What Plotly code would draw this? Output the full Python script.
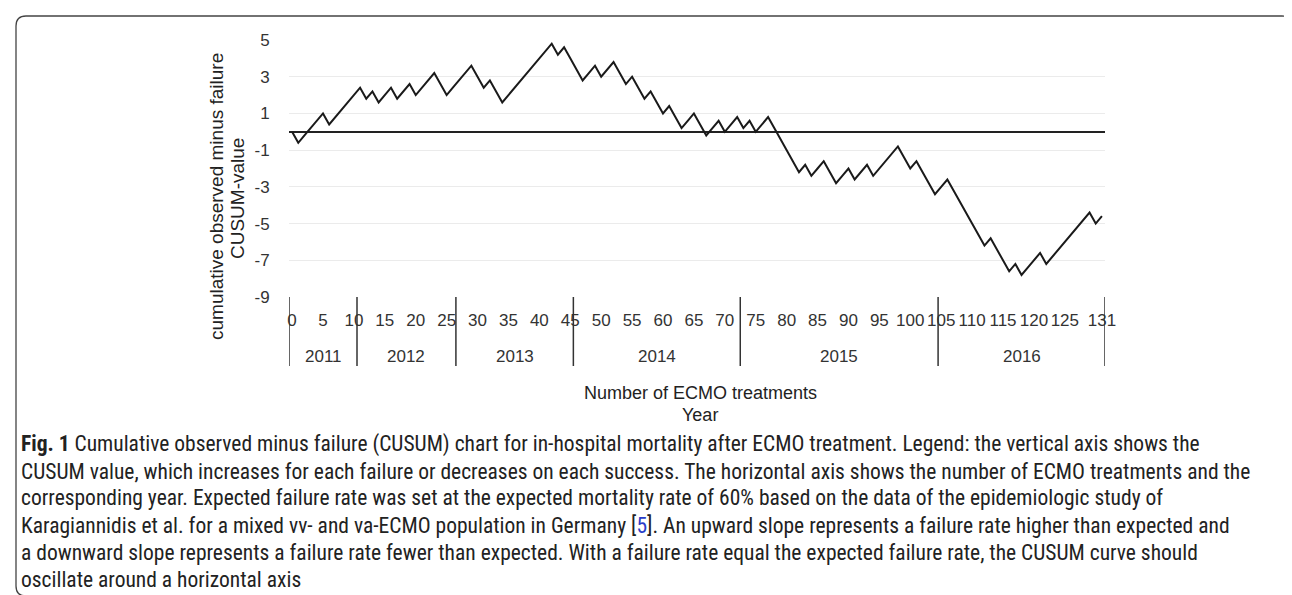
import plotly.graph_objects as go

# ---- data ----
treatments = list(range(0, 132))
cusum = [0.0, -0.6, -0.2, 0.2, 0.6, 1.0, 0.4, 0.8, 1.2, 1.6, 2.0, 2.4, 1.8, 2.2, 1.6, 2.0, 2.4, 1.8, 2.2, 2.6,
         2.0, 2.4, 2.8, 3.2, 2.6, 2.0, 2.4, 2.8, 3.2, 3.6, 3.0, 2.4, 2.8, 2.2, 1.6, 2.0, 2.4, 2.8, 3.2, 3.6,
         4.0, 4.4, 4.8, 4.2, 4.6, 4.0, 3.4, 2.8, 3.2, 3.6, 3.0, 3.4, 3.8, 3.2, 2.6, 3.0, 2.4, 1.8, 2.2, 1.6,
         1.0, 1.4, 0.8, 0.2, 0.6, 1.0, 0.4, -0.2, 0.2, 0.6, 0.0, 0.4, 0.8, 0.2, 0.6, 0.0, 0.4, 0.8, 0.2, -0.4,
         -1.0, -1.6, -2.2, -1.8, -2.4, -2.0, -1.6, -2.2, -2.8, -2.4, -2.0, -2.6, -2.2, -1.8, -2.4, -2.0, -1.6, -1.2, -0.8, -1.4,
         -2.0, -1.6, -2.2, -2.8, -3.4, -3.0, -2.6, -3.2, -3.8, -4.4, -5.0, -5.6, -6.2, -5.8, -6.4, -7.0, -7.6, -7.2, -7.8, -7.4,
         -7.0, -6.6, -7.2, -6.8, -6.4, -6.0, -5.6, -5.2, -4.8, -4.4, -5.0, -4.6]
x_tick_vals = [0, 5, 10, 15, 20, 25, 30, 35, 40, 45, 50, 55, 60, 65, 70, 75, 80, 85, 90, 95, 100, 105, 110, 115, 120, 125, 131]
x_tick_text = [str(v) for v in x_tick_vals]
y_tick_vals = [5, 3, 1, -1, -3, -5, -7, -9]
y_tick_text = ["5", "3", "1", "-1", "-3", "-5", "-7", "-9"]
years = ["2011", "2012", "2013", "2014", "2015", "2016"]
year_first = [0, 11, 27, 46, 73, 105]
year_last = [10, 26, 45, 72, 104, 131]

caption_lines = [
    "<b>Fig. 1</b> Cumulative observed minus failure (CUSUM) chart for in-hospital mortality after ECMO treatment. Legend: the vertical axis shows the",
    "CUSUM value, which increases for each failure or decreases on each success. The horizontal axis shows the number of ECMO treatments and the",
    "corresponding year. Expected failure rate was set at the expected mortality rate of 60% based on the data of the epidemiologic study of",
    "Karagiannidis et al. for a mixed vv- and va-ECMO population in Germany [<span style='color:#2a3cc8'>5</span>]. An upward slope represents a failure rate higher than expected and",
    "a downward slope represents a failure rate fewer than expected. With a failure rate equal the expected failure rate, the CUSUM curve should",
    "oscillate around a horizontal axis",
]

# ---- layout geometry ----
W, H = 1292, 595
L, R, T, B = 281, 195, 32, 306
PW, PH = W - L - R, H - T - B


def px2paper_x(px):
    return (px - L) / PW


def px2paper_y(py):
    return (H - B - py) / PH


AX_FONT = "Liberation Sans, Arial, sans-serif"
TXT = "#333333"

fig = go.Figure()
fig.add_trace(go.Scatter(x=treatments, y=cusum, mode="lines",
                         line=dict(color="#1a1a1a", width=2), showlegend=False, hoverinfo="skip"))

fig.update_layout(
    width=W, height=H,
    margin=dict(l=L, r=R, t=T, b=B, pad=0),
    paper_bgcolor="white", plot_bgcolor="white",
    font=dict(family=AX_FONT, size=17, color=TXT),
    xaxis=dict(range=[-0.5, 131.5], tickmode="array", tickvals=x_tick_vals, ticktext=x_tick_text,
               showgrid=False, zeroline=False, showline=False,
               ticks="outside", ticklen=8, tickcolor="rgba(0,0,0,0)",
               tickfont=dict(family=AX_FONT, size=17, color=TXT)),
    yaxis=dict(range=[-9, 5], tickmode="array", tickvals=y_tick_vals, ticktext=y_tick_text,
               showgrid=True, gridcolor="#ebebeb", gridwidth=1,
               zeroline=True, zerolinecolor="#222222", zerolinewidth=1.5,
               showline=False, ticks="outside", ticklen=15, tickcolor="rgba(0,0,0,0)",
               tickfont=dict(family=AX_FONT, size=17, color=TXT)),
)

shapes = []
# year group separators
bounds = [year_first[0] - 0.5] + [v + 0.5 for v in year_last]
for b in bounds:
    shapes.append(dict(type="line", xref="x", yref="paper", x0=b, x1=b,
                       y0=px2paper_y(289), y1=px2paper_y(358), line=dict(color="#333333", width=1.5)))

# figure frame with rounded corners
x0p, x1p = px2paper_x(8), px2paper_x(1284)
y0p, y1p = px2paper_y(588), px2paper_y(8)
rx, ry = 10 / PW, 10 / PH
path = (f"M {x0p + rx},{y1p} L {x1p - rx},{y1p} Q {x1p},{y1p} {x1p},{y1p - ry} "
        f"L {x1p},{y0p + ry} Q {x1p},{y0p} {x1p - rx},{y0p} L {x0p + rx},{y0p} "
        f"Q {x0p},{y0p} {x0p},{y0p + ry} L {x0p},{y1p - ry} Q {x0p},{y1p} {x0p + rx},{y1p} Z")
shapes.append(dict(type="path", xref="paper", yref="paper", path=path,
                   line=dict(color="#444444", width=1.3), layer="below"))
fig.update_layout(shapes=shapes)

ann = []
for yr, a, b in zip(years, year_first, year_last):
    ann.append(dict(x=(a + b) / 2, y=px2paper_y(348), xref="x", yref="paper", text=yr,
                    showarrow=False, font=dict(family=AX_FONT, size=17, color=TXT),
                    xanchor="center", yanchor="middle"))

ann.append(dict(x=px2paper_x(692), y=px2paper_y(385), xref="paper", yref="paper",
                text="Number of ECMO treatments", showarrow=False,
                font=dict(family=AX_FONT, size=18, color="#222222"), xanchor="center", yanchor="middle"))
ann.append(dict(x=px2paper_x(692), y=px2paper_y(407), xref="paper", yref="paper",
                text="Year", showarrow=False,
                font=dict(family=AX_FONT, size=18, color="#222222"), xanchor="center", yanchor="middle"))
ann.append(dict(x=px2paper_x(208), y=px2paper_y(189), xref="paper", yref="paper",
                text="cumulative observed minus failure", showarrow=False, textangle=-90,
                font=dict(family=AX_FONT, size=19, color="#222222"), xanchor="center", yanchor="middle"))
ann.append(dict(x=px2paper_x(229), y=px2paper_y(191), xref="paper", yref="paper",
                text="CUSUM-value", showarrow=False, textangle=-90,
                font=dict(family=AX_FONT, size=19, color="#222222"), xanchor="center", yanchor="middle"))

CAP_FONT = "Liberation Sans Narrow, Arial Narrow, Roboto Condensed, Liberation Sans, sans-serif"
for i, line in enumerate(caption_lines):
    ann.append(dict(x=px2paper_x(11), y=px2paper_y(436 + i * 27), xref="paper", yref="paper",
                    text=line, showarrow=False, align="left",
                    font=dict(family=CAP_FONT, size=21.5, color="#222222"),
                    xanchor="left", yanchor="middle"))

fig.update_layout(annotations=ann)

fig.write_html("out.html")
